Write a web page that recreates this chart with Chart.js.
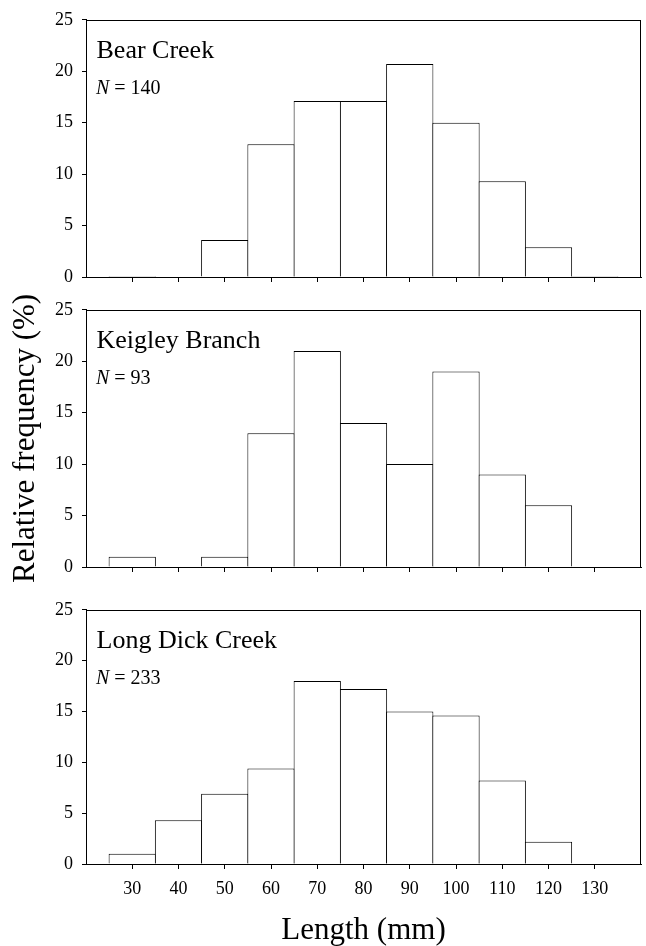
<!DOCTYPE html>
<html>
<head>
<meta charset="utf-8">
<script src="https://cdn.jsdelivr.net/npm/chart.js@4.4.1/dist/chart.umd.min.js"></script>
<style>
  html, body { margin: 0; padding: 0; background: #fff; }
  body { width: 646px; height: 946px; position: relative; overflow: hidden; }
  canvas { position: absolute; left: 0; }
</style>
</head>
<body>
<canvas id="c1" width="646" height="300" style="top:0px"></canvas>
<canvas id="c2" width="646" height="300" style="top:290px"></canvas>
<canvas id="c3" width="646" height="356" style="top:590px"></canvas>
<script>
// ---- data ----
const bins = [30, 40, 50, 60, 70, 80, 90, 100, 110, 120, 130];
const xTickLabels = ['30', '40', '50', '60', '70', '80', '90', '100', '110', '120', '130'];
const yTickValues = [0, 5, 10, 15, 20, 25];
const bearCreek = [0.1, 0, 3.6, 12.9, 17.1, 17.1, 20.7, 15.0, 9.3, 2.9, 0.1];
const keigleyBranch = [1.0, 0, 1.0, 13.0, 21.0, 14.0, 10.0, 19.0, 9.0, 6.0, 0];
const longDickCreek = [1.0, 4.3, 6.9, 9.4, 18.0, 17.2, 15.0, 14.6, 8.2, 2.2, 0.05];
const siteNames = ['Bear Creek', 'Keigley Branch', 'Long Dick Creek'];
const sampleSizes = [140, 93, 233];
const yTitle = 'Relative frequency (%)';
const xTitle = 'Length (mm)';

const SERIF = '"Liberation Serif", "Times New Roman", "DejaVu Serif", serif';
Chart.defaults.font.family = SERIF;
Chart.defaults.color = '#000';

const framePlugin = {
  id: 'frame',
  afterDraw(chart) {
    const a = chart.chartArea, ctx = chart.ctx;
    ctx.save();
    ctx.strokeStyle = '#000';
    ctx.lineWidth = 1;
    ctx.strokeRect(Math.round(a.left) + 0.5, Math.round(a.top) + 0.5,
                   Math.round(a.right - a.left) - 1, Math.round(a.bottom - a.top));
    ctx.restore();
  }
};

const labelPlugin = {
  id: 'panelLabel',
  afterDraw(chart, args, opts) {
    const a = chart.chartArea, ctx = chart.ctx;
    ctx.save();
    ctx.fillStyle = '#000';
    ctx.textBaseline = 'alphabetic';
    ctx.textAlign = 'left';
    ctx.font = '26px ' + SERIF;
    ctx.fillText(opts.name, a.left + 10.5, a.top + 38);
    ctx.font = 'italic 20px ' + SERIF;
    const x0 = a.left + 10;
    ctx.fillText('N', x0, a.top + 74);
    const w = ctx.measureText('N').width;
    ctx.font = '20px ' + SERIF;
    ctx.fillText(' = ' + opts.n, x0 + w, a.top + 74);
    ctx.restore();
  }
};

function makeChart(id, values, idx, cfg) {
  const points = bins.map((b, i) => ({ x: b, y: values[i] }));
  return new Chart(document.getElementById(id), {
    type: 'bar',
    data: {
      datasets: [{
        data: points,
        backgroundColor: '#fff',
        borderColor: '#000',
        borderWidth: 1,
        barPercentage: 1.022,
        categoryPercentage: 1.0,
        grouped: false
      }]
    },
    options: {
      responsive: false,
      animation: false,
      devicePixelRatio: 1,
      layout: { padding: { top: cfg.padTop, left: 0, right: 5, bottom: 0 } },
      plugins: {
        legend: { display: false },
        tooltip: { enabled: false },
        panelLabel: { name: siteNames[idx], n: sampleSizes[idx] }
      },
      scales: {
        x: {
          type: 'linear',
          min: 20, max: 140,
          offset: false,
          z: 1,
          afterBuildTicks(scale) { scale.ticks = bins.map(v => ({ value: v })); },
          afterFit(scale) { scale.height = cfg.xHeight; },
          grid: { offset: false, drawOnChartArea: false, drawTicks: true, tickLength: 5, color: '#000', lineWidth: 1 },
          border: { display: true, color: '#000', width: 1 },
          ticks: {
            display: cfg.showXLabels,
            padding: 9,
            font: { size: 18 },
            color: '#000',
            maxRotation: 0,
            autoSkip: false,
            callback(v) { const i = bins.indexOf(v); return i >= 0 ? xTickLabels[i] : ''; }
          },
          title: {
            display: cfg.showXLabels,
            text: xTitle,
            font: { size: 31, lineHeight: 1 },
            color: '#000',
            padding: { top: 0, bottom: 0 }
          }
        },
        y: {
          min: 0, max: 25,
          z: 1,
          afterBuildTicks(scale) { scale.ticks = yTickValues.map(v => ({ value: v })); },
          afterFit(scale) { scale.width = 86; },
          grid: { drawOnChartArea: false, drawTicks: true, tickLength: 4, color: '#000', lineWidth: 1 },
          border: { display: true, color: '#000', width: 1 },
          ticks: { padding: 9, font: { size: 18 }, color: '#000' },
          title: {
            display: cfg.showYTitle,
            text: yTitle,
            font: { size: 31, lineHeight: 1 },
            color: '#000',
            padding: { top: 10.5, bottom: 0 }
          }
        }
      }
    },
    plugins: [framePlugin, labelPlugin]
  });
}

makeChart('c1', bearCreek, 0, { padTop: 19, xHeight: 23, showXLabels: false, showYTitle: false });
makeChart('c2', keigleyBranch, 1, { padTop: 19, xHeight: 23, showXLabels: false, showYTitle: true });
makeChart('c3', longDickCreek, 2, { padTop: 15, xHeight: 82, showXLabels: true, showYTitle: false });
</script>
</body>
</html>
